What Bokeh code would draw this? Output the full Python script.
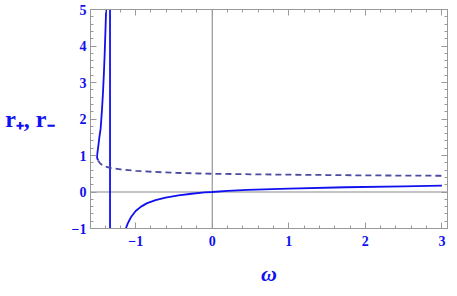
from bokeh.plotting import figure
from bokeh.models import Range1d, LinearAxis, SingleIntervalTicker, Span, Label, CustomJSTickFormatter
from bokeh.embed import file_html
from bokeh.resources import INLINE

# --- data ---
# r_+ branch left of the pole (rises steeply towards the pole)
omega_upper = [-1.490, -1.502, -1.504, -1.498, -1.490, -1.475, -1.457, -1.440, -1.427, -1.415, -1.405, -1.395, -1.386, -1.382]
r_upper = [0.87, 0.92, 0.98, 1.10, 1.22, 1.48, 1.75, 2.25, 2.72, 3.25, 3.78, 4.40, 5.00, 5.30]

# the pole at omega = -4/3 (Mathematica joins the branches across it)
pole_omega = [-1.335, -1.335]
pole_r = [-1.2, 5.2]

# r_+ branch right of the pole
omega_lower = [-1.145, -1.132, -1.103, -1.06, -1.00, -0.93, -0.85, -0.74, -0.61, -0.44, -0.27, -0.10,
               0.00, 0.20, 0.46, 1.00, 1.74, 2.50, 3.00]
r_lower = [-1.08, -1.02, -0.86, -0.685, -0.52, -0.40, -0.305, -0.225, -0.155, -0.093, -0.048, -0.013,
           0.00, 0.03, 0.06, 0.095, 0.13, 0.155, 0.172]

# r_- branch (dashed)
omega_minus = [-1.49, -1.47, -1.45, -1.42, -1.40, -1.335, -1.20, -1.00, -0.80, -0.50, 0.00, 0.50, 1.00, 1.50, 2.00, 2.50, 3.00]
r_minus = [0.86, 0.80, 0.76, 0.72, 0.70, 0.66, 0.62, 0.58, 0.555, 0.525, 0.50, 0.485, 0.475, 0.465, 0.455, 0.45, 0.445]

x_label = "ω"
y_label = "r₊, r₋"

BLUE = "#1010f0"
DASH = "#4a4aa0"
FRAME = "#999999"
FONT = "Liberation Serif"

p = figure(width=449, height=288, output_backend="svg", toolbar_location=None,
           x_range=Range1d(-1.59, 3.073), y_range=Range1d(-1, 5),
           min_border_left=90, min_border_right=2, min_border_top=9, min_border_bottom=57)
p.grid.visible = False
p.outline_line_color = FRAME
p.background_fill_color = "white"
p.border_fill_color = "white"

# axis lines through the origin
p.add_layout(Span(location=0, dimension="width", line_color="#c4c4c4", line_width=2, level="underlay"))
p.add_layout(Span(location=0, dimension="height", line_color="#808080", line_width=1, level="underlay"))

p.line(omega_upper, r_upper, line_color=BLUE, line_width=1.8)
p.line(pole_omega, pole_r, line_color=BLUE, line_width=1.8)
p.line(omega_lower, r_lower, line_color=BLUE, line_width=1.8)
p.line(omega_minus, r_minus, line_color=DASH, line_width=1.8, line_dash="6 4")

def style_axis(ax, labels=True):
    ax.ticker = SingleIntervalTicker(interval=1, num_minor_ticks=5)
    ax.axis_line_color = FRAME
    ax.major_tick_line_color = FRAME
    ax.minor_tick_line_color = FRAME
    ax.major_tick_in = 6
    ax.major_tick_out = 0
    ax.minor_tick_in = 3
    ax.minor_tick_out = 0
    if labels:
        ax.major_label_text_color = BLUE
        ax.major_label_text_font = FONT
        ax.major_label_text_font_style = "bold"
        ax.major_label_text_font_size = "14px"
    else:
        ax.formatter = CustomJSTickFormatter(code="return ''")
        ax.major_label_text_font_size = "1px"
        ax.major_label_standoff = 0

xa = p.xaxis[0]
style_axis(xa)
xa.major_label_standoff = 7
xa.axis_label = x_label
xa.axis_label_text_font = FONT
xa.axis_label_text_font_style = "bold italic"
xa.axis_label_text_font_size = "22px"
xa.axis_label_text_color = BLUE
xa.axis_label_standoff = 12

ya = p.yaxis[0]
style_axis(ya)
ya.major_label_standoff = 4

top = LinearAxis()
style_axis(top, labels=False)
p.add_layout(top, "above")
right = LinearAxis()
style_axis(right, labels=False)
p.add_layout(right, "right")

try:
    ya.axis_label = y_label
    ya.axis_label_orientation = "horizontal"
    ya.axis_label_text_font = FONT
    ya.axis_label_text_font_style = "bold"
    ya.axis_label_text_font_size = "24px"
    ya.axis_label_text_color = BLUE
    ya.axis_label_standoff = 14
except AttributeError:
    ya.axis_label = None
    p.add_layout(Label(x=-1.59, y=1.74, x_offset=-32, text=y_label, text_align="right",
                       text_baseline="middle", text_font=FONT, text_font_style="bold",
                       text_font_size="24px", text_color=BLUE))

open("out.html", "w").write(file_html(p, INLINE))
